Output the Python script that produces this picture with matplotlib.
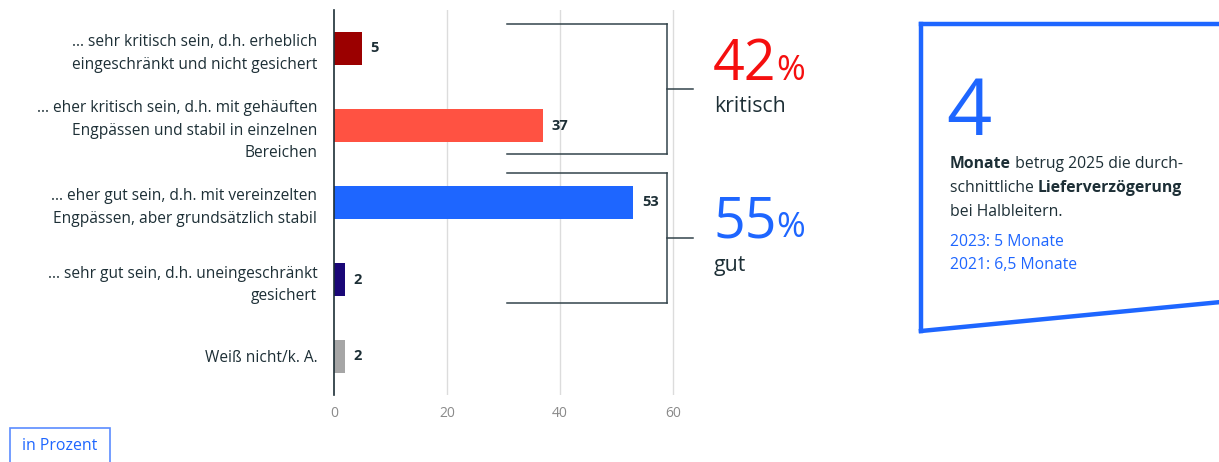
import matplotlib
matplotlib.use("Agg")
import matplotlib.pyplot as plt
from matplotlib.patches import Rectangle
from matplotlib.lines import Line2D

plt.rcParams['font.family'] = ['Open Sans', 'DejaVu Sans']

categories = [
    "... sehr kritisch sein, d.h. erheblich\neingeschränkt und nicht gesichert",
    "... eher kritisch sein, d.h. mit gehäuften\nEngpässen und stabil in einzelnen\nBereichen",
    "... eher gut sein, d.h. mit vereinzelten\nEngpässen, aber grundsätzlich stabil",
    "... sehr gut sein, d.h. uneingeschränkt\ngesichert",
    "Weiß nicht/k. A.",
]
values = [5, 37, 53, 2, 2]
bar_colors = ["#9b0000", "#ff5242", "#1e66ff", "#1a0777", "#a6a6a6"]
xticks = [0, 20, 40, 60]
group_labels = ["kritisch", "gut"]
group_values = ["42", "55"]
group_colors = ["#f50f0f", "#1e66ff"]

TEXT = "#1d2f36"
W, H = 1219, 462
fig = plt.figure(figsize=(W / 100, H / 100), dpi=100)

def fx(px):
    return px / W

def fy(py):
    return 1 - py / H

ax = fig.add_axes([fx(334), fy(395), fx(334 + 62 * 5.65) - fx(334), fy(10) - fy(395)])
ypos = list(range(len(categories)))
ax.barh(ypos, values, height=0.43, color=bar_colors, zorder=3)
ax.set_ylim(4.5, -0.5)
ax.set_xlim(0, 62)
ax.set_xticks(xticks)
ax.set_xticklabels([str(t) for t in xticks], color="#8a8a8a", fontsize=10)
ax.tick_params(axis='x', length=0, pad=8)
ax.set_yticks(ypos)
ax.set_yticklabels(categories, fontsize=11.2, color=TEXT, linespacing=1.55)
ax.tick_params(axis='y', length=0, pad=12)
for s in ["top", "right", "bottom"]:
    ax.spines[s].set_visible(False)
ax.spines["left"].set_color(TEXT)
ax.spines["left"].set_linewidth(1.2)
ax.spines["left"].set_zorder(4)
for t in xticks[1:]:
    ax.axvline(t, color="#dcdcdc", lw=1, zorder=1)

for y, v in zip(ypos, values):
    ax.text(v + 1.5, y, str(v), va="center", ha="left", fontsize=10.5,
            fontweight="bold", color=TEXT)

# brackets (figure coordinates)
bc = "#33444b"
def bracket(top, bot, mid):
    for seg in [((507, 667), (top, top)), ((507, 667), (bot, bot)),
                ((667, 667), (top, bot)), ((667, 693), (mid, mid))]:
        fig.add_artist(Line2D([fx(seg[0][0]), fx(seg[0][1])],
                              [fy(seg[1][0]), fy(seg[1][1])], color=bc, lw=1.1))
bracket(24, 154, 89)
bracket(173, 303, 238)

for (num, lab, col, base, laby) in [
        (group_values[0], group_labels[0], group_colors[0], 80, 106),
        (group_values[1], group_labels[1], group_colors[1], 237, 265)]:
    fig.text(fx(713), fy(base), num, fontsize=40, color=col, va="baseline", ha="left")
    fig.text(fx(776), fy(base), "%", fontsize=25, color=col, va="baseline", ha="left")
    fig.text(fx(714), fy(laby), lab, fontsize=15.3, color=TEXT, va="center", ha="left")

# right info box
box_col = "#1e66ff"
fig.add_artist(Line2D([fx(921), fx(1221)], [fy(24), fy(24)], color=box_col, lw=3.2,
                      solid_capstyle="projecting"))
fig.add_artist(Line2D([fx(921), fx(921)], [fy(24), fy(331)], color=box_col, lw=3.2))
fig.add_artist(Line2D([fx(921), fx(1221)], [fy(331), fy(302)], color=box_col, lw=3.2,
                      solid_capstyle="projecting"))
fig.text(fx(946), fy(135), "4", fontsize=57, color=box_col, va="baseline", ha="left")

fs = 11.3
def seq(x, y, parts):
    r = fig.canvas.get_renderer()
    for txt, bold, col in parts:
        t = fig.text(fx(x), fy(y), txt, fontsize=fs, color=col, va="baseline",
                     fontweight="bold" if bold else "normal")
        bb = t.get_window_extent(renderer=r)
        x += bb.width
seq(950, 168, [("Monate", True, TEXT), (" betrug 2025 die durch-", False, TEXT)])
seq(950, 192, [("schnittliche ", False, TEXT), ("Lieferverzögerung", True, TEXT)])
seq(950, 216, [("bei Halbleitern.", False, TEXT)])
seq(950, 246, [("2023: 5 Monate", False, box_col)])
seq(950, 269, [("2021: 6,5 Monate", False, box_col)])

# "in Prozent" box
fig.add_artist(Rectangle((fx(10), fy(470)), fx(110) - fx(10), fy(428) - fy(470),
                         fill=False, edgecolor="#5b8cff", lw=1.2))
fig.text(fx(60), fy(446), "in Prozent", fontsize=11.4, color=box_col, ha="center", va="center")

fig.savefig("out.png", dpi=100)
